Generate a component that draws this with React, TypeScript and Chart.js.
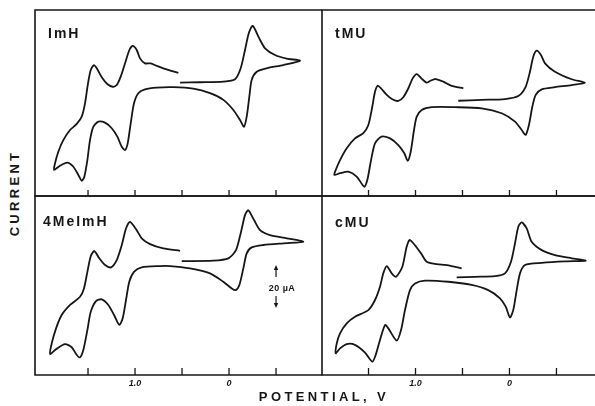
import React, { useEffect, useRef } from "react";
import { Chart, registerables } from "chart.js";

Chart.register(...registerables);

// ---- data: potential (V) and current (µA) along each voltammogram trace ----
const imhPotential = [
  0.539, 0.699, 0.769, 0.833, 0.894, 0.947, 0.982, 1.024, 1.06, 1.106, 1.152, 1.195, 1.237, 1.295, 1.354, 1.407, 1.436, 1.471, 1.5, 1.532, 1.567, 1.62, 1.691, 1.763, 1.816, 1.851, 1.862,
  1.798, 1.72, 1.656, 1.603, 1.567, 1.539, 1.507, 1.479, 1.444, 1.39, 1.319, 1.248, 1.188, 1.141, 1.106, 1.078, 1.046, 1.011, 0.965, 0.894, 0.769, 0.593, 0.38, 0.202, 0.06, -0.046, -0.117, -0.16, -0.188, -0.216, -0.241, -0.295, -0.401, -0.578, -0.755,
  -0.614, -0.489, -0.383, -0.322, -0.252, -0.21, -0.17, -0.124, -0.064, 0.06, 0.309, 0.521,
];
const imhCurrent = [
  57.3, 59.4, 60.5, 61.7, 61.7, 64.0, 67.9, 69.8, 67.9, 61.7, 55.5, 51.6, 50.8, 52.1, 55.2, 59.4, 60.9, 58.6, 52.4, 43.1, 36.9, 33.5, 30.7, 26.0, 20.6, 15.2, 12.1,
  14.1, 15.5, 13.6, 9.8, 7.1, 9.0, 16.7, 26.0, 32.2, 34.6, 34.1, 31.5, 27.6, 22.9, 21.4, 24.5, 33.8, 43.1, 47.8, 49.6, 50.4, 50.6, 49.9, 47.8, 44.7, 40.0, 35.3, 32.2, 36.9, 46.2, 54.0, 57.8, 59.4, 60.9, 62.9,
  63.9, 65.6, 68.7, 73.3, 79.1, 75.7, 67.9, 59.4, 54.3, 53.2, 52.9, 52.7,
];

const tmuPotential = [
  0.491, 0.615, 0.704, 0.785, 0.846, 0.881, 0.928, 0.987, 1.03, 1.076, 1.13, 1.183, 1.247, 1.306, 1.367, 1.402, 1.431, 1.46, 1.502, 1.555, 1.644, 1.732, 1.803, 1.849, 1.864,
  1.803, 1.715, 1.626, 1.545, 1.513, 1.473, 1.431, 1.36, 1.271, 1.183, 1.119, 1.083, 1.051, 1.016, 0.987, 0.934, 0.828, 0.58, 0.296, 0.083, -0.059, -0.13, -0.172, -0.207, -0.243, -0.279, -0.343, -0.484, -0.662, -0.803,
  -0.662, -0.484, -0.378, -0.335, -0.289, -0.253, -0.218, -0.172, -0.094, 0.048, 0.296, 0.545,
];
const tmuCurrent = [
  50.1, 51.2, 53.2, 54.4, 53.5, 52.7, 54.3, 56.7, 54.7, 50.1, 45.9, 44.2, 45.0, 47.0, 50.1, 51.3, 48.5, 41.5, 33.0, 29.2, 26.8, 22.2, 16.7, 12.1, 9.8,
  10.6, 11.3, 9.0, 4.3, 7.4, 16.7, 24.5, 27.6, 26.8, 23.7, 19.9, 16.4, 20.6, 30.7, 36.9, 40.0, 41.3, 41.3, 40.8, 38.5, 34.6, 30.7, 28.4, 33.0, 41.5, 47.0, 49.6, 50.6, 51.6, 52.7,
  54.3, 57.8, 61.7, 65.6, 67.6, 64.8, 57.8, 50.8, 46.5, 45.1, 44.7, 44.3,
];

const meimhPotential = [
  0.521, 0.699, 0.84, 0.929, 0.982, 1.053, 1.096, 1.141, 1.195, 1.255, 1.319, 1.38, 1.433, 1.471, 1.507, 1.543, 1.585, 1.691, 1.78, 1.84, 1.886, 1.904,
  1.84, 1.745, 1.673, 1.62, 1.585, 1.55, 1.507, 1.471, 1.415, 1.354, 1.284, 1.223, 1.167, 1.131, 1.096, 1.061, 1.011, 0.929, 0.734, 0.628, 0.415, 0.202, 0.061, -0.029, -0.071, -0.11, -0.152, -0.188, -0.241, -0.365, -0.578, -0.79,
  -0.614, -0.436, -0.33, -0.266, -0.205, -0.17, -0.128, -0.074, 0.007, 0.167, 0.503,
];
const meimhCurrent = [
  57.8, 58.9, 60.9, 63.6, 67.4, 71.3, 68.2, 60.5, 53.5, 50.1, 51.2, 54.3, 57.7, 55.3, 48.0, 40.3, 36.4, 32.6, 27.9, 21.7, 14.7, 9.8,
  12.0, 14.4, 12.9, 9.3, 8.2, 11.6, 20.9, 29.4, 34.4, 35.2, 32.6, 27.9, 23.3, 26.4, 34.9, 43.4, 48.0, 50.1, 50.7, 50.7, 49.6, 47.3, 43.4, 40.3, 39.5, 41.9, 49.6, 56.6, 59.4, 60.5, 61.3, 62.0,
  63.6, 65.1, 67.4, 72.1, 76.7, 74.4, 66.7, 58.1, 54.3, 53.2, 53.0,
];

const cmuPotential = [
  0.509, 0.615, 0.686, 0.774, 0.881, 0.941, 1.059, 1.094, 1.14, 1.207, 1.253, 1.306, 1.343, 1.378, 1.431, 1.502, 1.644, 1.732, 1.803, 1.838, 1.849,
  1.803, 1.732, 1.644, 1.537, 1.46, 1.424, 1.378, 1.324, 1.289, 1.2, 1.154, 1.112, 1.059, 1.005, 0.899, 0.651, 0.402, 0.226, 0.101, 0.04, -0.005, -0.04, -0.077, -0.112, -0.165, -0.343, -0.59, -0.811,
  -0.662, -0.484, -0.343, -0.236, -0.183, -0.13, -0.094, -0.059, -0.016, 0.048, 0.154, 0.367, 0.562,
];
const cmuCurrent = [
  49.6, 50.7, 51.2, 51.6, 52.7, 56.6, 62.8, 59.7, 50.4, 45.7, 47.3, 50.7, 47.3, 41.1, 34.9, 30.2, 27.1, 24.0, 19.4, 14.7, 10.1,
  12.4, 14.4, 14.0, 10.4, 6.2, 9.3, 16.3, 23.3, 21.7, 16.0, 20.9, 30.2, 39.5, 42.6, 43.9, 43.4, 41.9, 39.5, 35.7, 31.8, 26.8, 30.2, 39.5, 47.3, 51.2, 52.2, 52.9, 53.2,
  54.3, 55.8, 58.1, 62.0, 68.2, 71.0, 69.0, 61.3, 52.7, 47.3, 46.0, 45.7, 45.4,
];

const tickPotentials = [1.5, 1.0, 0.5, 0, -0.5];
const tickLabelText = ["", "1.0", "", "0", ""];
const scaleBarCurrents = [31.2, 51.2]; // 20 µA
const scaleBarPotential = -0.5;

const INK = "#161616";
const FONT = "'Liberation Sans', Arial, Helvetica, sans-serif";

const framePlugin = {
  id: "cvFrame",
  afterDraw(chart: any, _args: any, opts: any) {
    const { ctx, chartArea } = chart;
    const { left, right, top, bottom } = chartArea;
    const xs = chart.scales.x;
    const ys = chart.scales.y;
    ctx.save();
    ctx.strokeStyle = INK;
    ctx.fillStyle = INK;
    ctx.lineWidth = 1.6;
    ctx.beginPath();
    ctx.moveTo(right, top);
    ctx.lineTo(left, top);
    ctx.lineTo(left, bottom);
    ctx.lineTo(right, bottom);
    ctx.stroke();
    ctx.lineWidth = 1.3;
    ctx.beginPath();
    tickPotentials.forEach((v) => {
      const px = xs.getPixelForValue(v);
      ctx.moveTo(px, bottom);
      ctx.lineTo(px, bottom - (opts.tickLength || 6));
    });
    ctx.stroke();
    if (opts.scaleBar) {
      const px = xs.getPixelForValue(scaleBarPotential);
      const yHi = ys.getPixelForValue(scaleBarCurrents[1]);
      const yLo = ys.getPixelForValue(scaleBarCurrents[0]);
      ctx.lineWidth = 1.2;
      ctx.beginPath();
      ctx.moveTo(px, yHi + 12);
      ctx.lineTo(px, yHi + 3);
      ctx.moveTo(px, yLo - 12);
      ctx.lineTo(px, yLo - 3);
      ctx.stroke();
      ctx.beginPath();
      ctx.moveTo(px, yHi);
      ctx.lineTo(px - 2.2, yHi + 5);
      ctx.lineTo(px + 2.2, yHi + 5);
      ctx.closePath();
      ctx.moveTo(px, yLo);
      ctx.lineTo(px - 2.2, yLo - 5);
      ctx.lineTo(px + 2.2, yLo - 5);
      ctx.closePath();
      ctx.fill();
    }
    ctx.restore();
  },
};

type PanelProps = {
  potentials: number[];
  currents: number[];
  left: number;
  top: number;
  width: number;
  height: number;
  vMin: number;
  vMax: number;
  iMax: number;
  showLabels: boolean;
  scaleBar?: boolean;
  tickLength: number;
};

function Panel(p: PanelProps) {
  const ref = useRef<HTMLCanvasElement>(null);
  useEffect(() => {
    const points = p.potentials.map((v, k) => ({ x: v, y: p.currents[k] }));
    const xScale: any = {
      type: "linear",
      min: p.vMin,
      max: p.vMax,
      reverse: true,
      display: p.showLabels,
      grid: { display: false, drawTicks: false },
      border: { display: false },
      afterBuildTicks: (s: any) => {
        s.ticks = tickPotentials.map((v) => ({ value: v }));
      },
      ticks: {
        autoSkip: false,
        maxRotation: 0,
        padding: 3,
        color: INK,
        font: { family: FONT, size: 9, style: "italic", weight: "bold" },
        callback: (value: any) => {
          const k = tickPotentials.indexOf(Number(value));
          return k >= 0 ? tickLabelText[k] : "";
        },
      },
    };
    if (p.showLabels) {
      xScale.afterFit = (s: any) => {
        s.height = 16;
      };
    }
    const chart = new Chart(ref.current as HTMLCanvasElement, {
      type: "scatter",
      data: {
        datasets: [
          {
            data: points,
            showLine: true,
            borderColor: INK,
            borderWidth: 1.8,
            pointRadius: 0,
            tension: 0.25,
            fill: false,
          } as any,
        ],
      },
      options: {
        animation: false,
        responsive: false,
        maintainAspectRatio: false,
        events: [],
        layout: { padding: { left: 2, top: 2, right: 0, bottom: p.showLabels ? 0 : 2 } },
        plugins: {
          legend: { display: false },
          tooltip: { enabled: false },
          cvFrame: { scaleBar: !!p.scaleBar, tickLength: p.tickLength },
        } as any,
        scales: {
          x: xScale,
          y: { type: "linear", min: 0, max: p.iMax, display: false },
        },
      },
      plugins: [framePlugin as any],
    });
    return () => chart.destroy();
  }, []);
  return (
    <canvas
      ref={ref}
      width={p.width}
      height={p.height}
      style={{ position: "absolute", left: p.left, top: p.top, width: p.width, height: p.height }}
    />
  );
}

const labelStyle: React.CSSProperties = {
  position: "absolute",
  fontFamily: FONT,
  fontWeight: "bold",
  fontSize: 14,
  lineHeight: "14px",
  letterSpacing: 2,
  color: INK,
  whiteSpace: "nowrap",
};

export default function App() {
  useEffect(() => {
    document.body.style.margin = "0";
  }, []);
  return (
    <div
      style={{
        position: "absolute",
        left: 0,
        top: 0,
        width: 595,
        height: 406,
        background: "#fff",
        overflow: "hidden",
      }}
    >
      <Panel potentials={imhPotential} currents={imhCurrent} left={33} top={8} width={289} height={190} vMin={-0.989} vMax={2.064} iMax={86.5} showLabels={false} tickLength={6} />
      <Panel potentials={tmuPotential} currents={tmuCurrent} left={320} top={8} width={275} height={190} vMin={-0.91} vMax={1.995} iMax={86.5} showLabels={false} tickLength={6} />
      <Panel potentials={meimhPotential} currents={meimhCurrent} left={33} top={194} width={289} height={197} vMin={-0.989} vMax={2.064} iMax={83.3} showLabels={true} scaleBar={true} tickLength={7} />
      <Panel potentials={cmuPotential} currents={cmuCurrent} left={320} top={194} width={275} height={197} vMin={-0.91} vMax={1.995} iMax={83.3} showLabels={true} tickLength={7} />

      <div style={{ ...labelStyle, left: 48, top: 26 }}>ImH</div>
      <div style={{ ...labelStyle, left: 335, top: 26 }}>tMU</div>
      <div style={{ ...labelStyle, left: 43, top: 214 }}>4MeImH</div>
      <div style={{ ...labelStyle, left: 335, top: 215 }}>cMU</div>

      <div
        style={{
          ...labelStyle,
          fontSize: 9,
          lineHeight: "9px",
          letterSpacing: 0.5,
          left: 282,
          top: 288,
          transform: "translate(-50%, -50%)",
        }}
      >
        20 µA
      </div>

      <div
        style={{
          ...labelStyle,
          fontSize: 13,
          lineHeight: "13px",
          letterSpacing: 3.3,
          left: 14,
          top: 193,
          transform: "translate(-50%, -50%) rotate(-90deg)",
        }}
      >
        CURRENT
      </div>
      <div
        style={{
          ...labelStyle,
          fontSize: 13,
          lineHeight: "13px",
          letterSpacing: 3.4,
          left: 324,
          top: 390,
          transform: "translateX(-50%)",
        }}
      >
        POTENTIAL, V
      </div>
    </div>
  );
}
